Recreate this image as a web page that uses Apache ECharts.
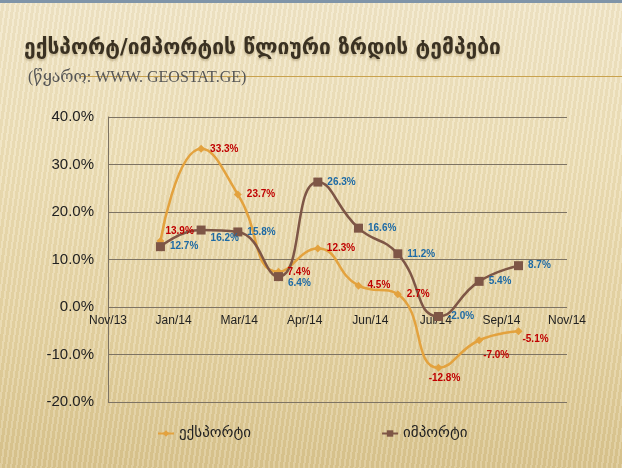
<!DOCTYPE html>
<html><head><meta charset="utf-8">
<script src="https://cdn.jsdelivr.net/npm/echarts@6/dist/echarts.min.js"></script>
<style>
html,body{margin:0;padding:0;width:622px;height:468px;overflow:hidden;}
body{
  background:
    repeating-linear-gradient(98deg, rgba(255,255,255,0.16) 0px, rgba(255,255,255,0.16) 2px, rgba(120,90,30,0.05) 2px, rgba(120,90,30,0.05) 5px),
    linear-gradient(to bottom, #F2E7C9 0%, #EEE0B8 35%, #E6D4A4 70%, #DAC58F 100%);
}
#topbar{position:absolute;left:0;top:0;width:622px;height:3px;background:#7f94a8;}
#chart{position:absolute;left:0;top:0;width:622px;height:468px;}
</style></head><body>
<div id="chart"></div><div id="topbar"></div>
<script>
// ---- data ----
const months = ['2014-01-01','2014-02-01','2014-03-01','2014-04-01','2014-05-01','2014-06-01','2014-07-01','2014-08-01','2014-09-01','2014-10-01'];
const exportVals = [13.9, 33.3, 23.7, 7.4, 12.3, 4.5, 2.7, -12.8, -7.0, -5.1];
const importVals = [12.7, 16.2, 15.8, 6.4, 26.3, 16.6, 11.2, -2.0, 5.4, 8.7];
const tickLabels = ['Nov/13','Jan/14','Mar/14','Apr/14','Jun/14','Jul/14','Sep/14','Nov/14'];
const axisStart = '2013-11-22';
const axisEnd = '2014-11-07';
const seriesNames = ['ექსპორტი', 'იმპორტი'];
const titleText = 'ექსპორტ/იმპორტის წლიური ზრდის ტემპები';
const sourceText = '(წყარო: WWW. GEOSTAT.GE)';

// ---- label placement (style) ----
const exportLabelPlace = [['right',-4,-10],['right',0,0],['right',0,0],['right',0,0],['right',0,0],['right',0,0],['right',0,0],['bottom',6,-4],['right',-5,15],['right',-5,8]];
const importLabelPlace = [['right',0,0],['right',0,8],['right',0,0],['right',0,7],['right',0,0],['right',0,0],['right',0,0],['right',0,0],['right',0,0],['right',0,0]];

function toTime(s){ const p = s.split('-').map(Number); return new Date(p[0], p[1]-1, p[2]).getTime(); }

function buildData(vals, place){
  return months.map((m,i)=>({
    value:[toTime(m), vals[i]],
    label:{position:place[i][0], offset:[place[i][1], place[i][2]]}
  }));
}

const gridColor = '#7d7363';
const chart = echarts.init(document.getElementById('chart'), null, {renderer:'canvas'});
chart.setOption({
  backgroundColor:'transparent',
  animation:false,
  title:[
    {text:titleText, left:24, top:38, padding:0,
     textStyle:{fontFamily:'DejaVu Sans', fontSize:21, fontWeight:'bold', color:'#3a3122',
       textShadowColor:'rgba(120,100,60,0.35)', textShadowBlur:2, textShadowOffsetY:2}},
    {text:sourceText, left:28, top:70, padding:0,
     textStyle:{fontFamily:'Liberation Serif, DejaVu Serif, serif', fontSize:16, fontWeight:'normal', color:'#555'}}
  ],
  graphic:[
    {type:'line', shape:{x1:80, y1:76.5, x2:622, y2:76.5}, style:{stroke:'#C9A24E', lineWidth:1}, z:-1}
  ],
  legend:{
    left:152, top:421, itemGap:130, itemWidth:16, itemHeight:8,
    textStyle:{fontFamily:'DejaVu Sans', fontSize:15, color:'#222'},
    data:seriesNames
  },
  grid:{left:108, right:55, top:117, bottom:66, containLabel:false},
  xAxis:[
    {type:'category', position:'bottom', data:tickLabels, boundaryGap:false, offset:-95,
     axisLine:{show:false, onZero:false},
     axisTick:{show:false},
     axisLabel:{fontFamily:'Liberation Sans, Arial', fontSize:12, color:'#222', margin:8, interval:0},
     splitLine:{show:false}},
    {type:'time', position:'top', show:false, min:toTime(axisStart), max:toTime(axisEnd),
     splitLine:{show:false}}
  ],
  yAxis:{
    type:'value', min:-20, max:40, interval:10,
    axisLine:{show:true, onZero:false, lineStyle:{color:gridColor, width:1}},
    axisTick:{show:false},
    axisLabel:{fontFamily:'Liberation Sans, Arial', fontSize:15, color:'#222', margin:14,
      formatter:v=>v.toFixed(1)+'%'},
    splitLine:{show:true, lineStyle:{color:gridColor, width:1}}
  },
  series:[
    {name:seriesNames[0], type:'line', xAxisIndex:1, smooth:true,
     data:buildData(exportVals, exportLabelPlace),
     symbol:'diamond', symbolSize:8,
     lineStyle:{color:'#E3A23E', width:2.5},
     itemStyle:{color:'#E3A23E'},
     label:{show:true, distance:5, formatter:p=>p.value[1].toFixed(1)+'%',
       fontFamily:'Liberation Sans, Arial', fontSize:10, fontWeight:'bold', color:'#C00000'}},
    {name:seriesNames[1], type:'line', xAxisIndex:1, smooth:true,
     data:buildData(importVals, importLabelPlace),
     symbol:'rect', symbolSize:9,
     lineStyle:{color:'#7E5646', width:2.5},
     itemStyle:{color:'#7E5646'},
     label:{show:true, distance:5, formatter:p=>p.value[1].toFixed(1)+'%',
       fontFamily:'Liberation Sans, Arial', fontSize:10, fontWeight:'bold', color:'#1D6AA5'}}
  ]
});
</script>
</body></html>
